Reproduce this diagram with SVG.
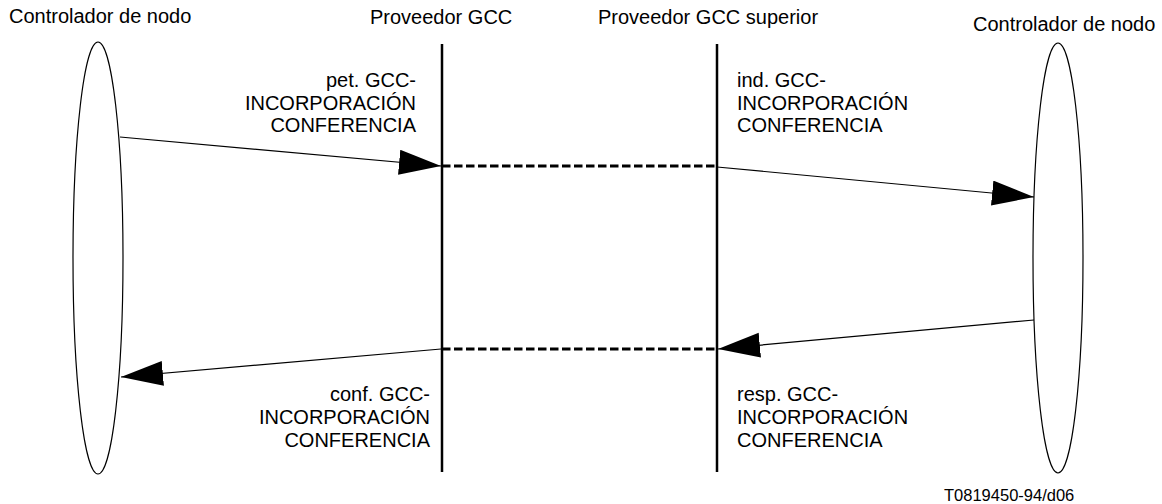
<svg xmlns="http://www.w3.org/2000/svg" width="1162" height="504" viewBox="0 0 1162 504">
<style>
text{font-family:"Liberation Sans",Arial,sans-serif;font-size:20px;fill:#000}
.end{text-anchor:end}
.node{fill:none;stroke:#000;stroke-width:1.2}
.life{stroke:#000;stroke-width:2.5}
.msg{stroke:#000;stroke-width:1.2;fill:none;marker-end:url(#ah)}
.dash{stroke:#000;stroke-width:3;stroke-dasharray:8.5 3.5;fill:none}
.small{font-size:16.5px}
</style>
<defs>
<marker id="ah" markerUnits="userSpaceOnUse" markerWidth="44" markerHeight="26" refX="42" refY="12.5" orient="auto">
<path d="M0,0 L42,12.5 L0,25 z" fill="#000"/>
</marker>
</defs>
<rect width="1162" height="504" fill="#fff"/>
<g id="node-left">
<ellipse class="node" cx="98" cy="258" rx="25" ry="216"/>
<text x="9" y="23">Controlador de nodo</text>
</g>
<g id="node-gcc">
<line class="life" x1="442" y1="44" x2="442" y2="472"/>
<text x="370" y="24">Proveedor GCC</text>
</g>
<g id="node-gcc-sup">
<line class="life" x1="717" y1="44" x2="717" y2="472"/>
<text x="598" y="24">Proveedor GCC superior</text>
</g>
<g id="node-right">
<ellipse class="node" cx="1058" cy="258" rx="25" ry="215"/>
<text x="973" y="31">Controlador de nodo</text>
</g>
<g id="connectors">
<line class="msg" x1="120" y1="137" x2="441" y2="166"/>
<line class="dash" x1="442" y1="166" x2="716" y2="166"/>
<line class="msg" x1="717" y1="167" x2="1034" y2="197"/>
<line class="msg" x1="1034" y1="320" x2="718" y2="349"/>
<line class="dash" x1="442" y1="349" x2="716" y2="349"/>
<line class="msg" x1="441" y1="349" x2="121" y2="377"/>
</g>
<g id="labels">
<text class="end" x="416" y="87">pet. GCC-</text>
<text class="end" x="416" y="110">INCORPORACIÓN</text>
<text class="end" x="416" y="132">CONFERENCIA</text>
<text x="737" y="87">ind. GCC-</text>
<text x="737" y="110">INCORPORACIÓN</text>
<text x="737" y="132">CONFERENCIA</text>
<text class="end" x="430" y="401">conf. GCC-</text>
<text class="end" x="430" y="424">INCORPORACIÓN</text>
<text class="end" x="430" y="447">CONFERENCIA</text>
<text x="737" y="401">resp. GCC-</text>
<text x="737" y="424">INCORPORACIÓN</text>
<text x="737" y="447">CONFERENCIA</text>
<text class="small" x="944" y="501">T0819450-94/d06</text>
</g>
</svg>
